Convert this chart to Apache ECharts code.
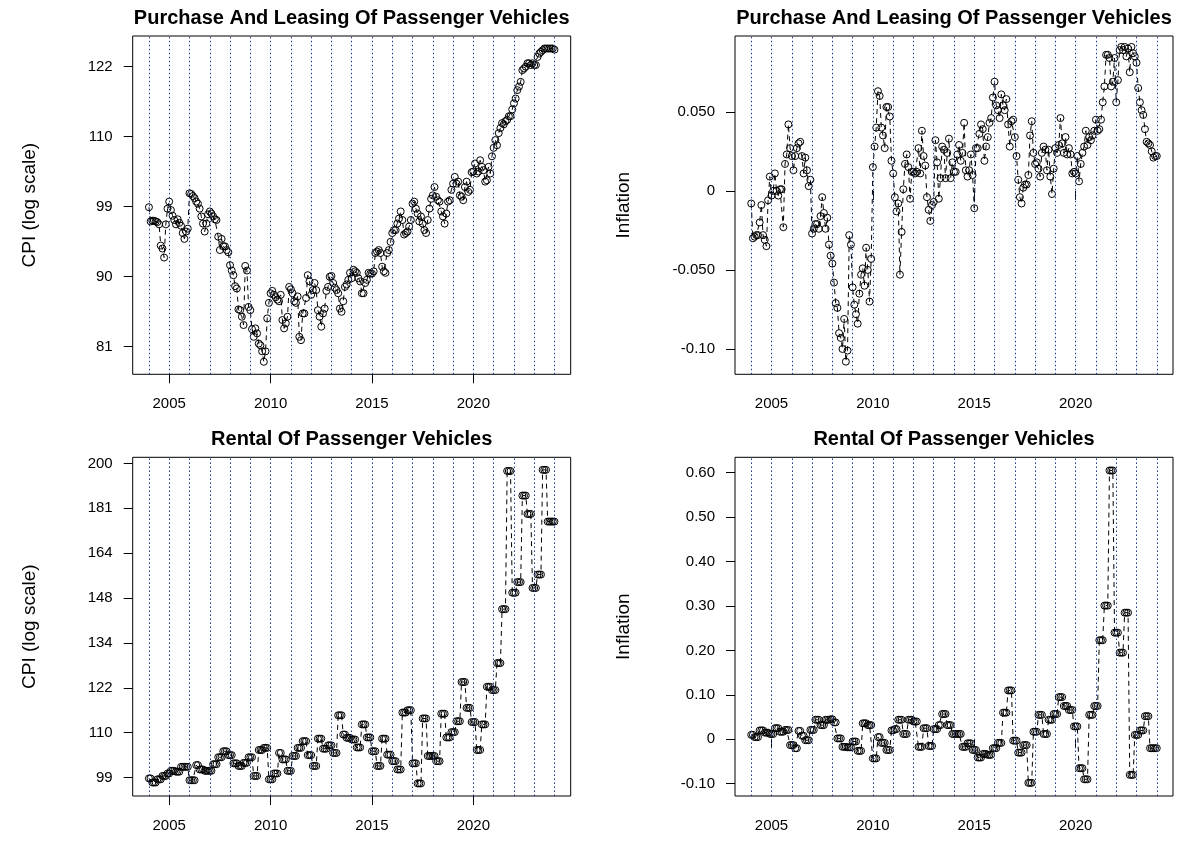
<!DOCTYPE html>
<html><head><meta charset="utf-8">
<script src="https://cdn.jsdelivr.net/npm/echarts@6/dist/echarts.min.js"></script>
<style>html,body{margin:0;padding:0;background:#fff}#c{width:1178px;height:842px}</style>
</head><body><div id="c"></div>
<script>
const startYear = 2004;
const yearLines = [2004,2005,2006,2007,2008,2009,2010,2011,2012,2013,2014,2015,2016,2017,2018,2019,2020,2021,2022,2023,2024];
const xTickYears = [2005, 2010, 2015, 2020];
const panelTitles = ['Purchase And Leasing Of Passenger Vehicles','Purchase And Leasing Of Passenger Vehicles','Rental Of Passenger Vehicles','Rental Of Passenger Vehicles'];

// monthly, Jan 2004 .. Jan 2024
const purchaseCPI = [
99.4,97.4,97.5,97.5,97.4,97.3,97.0,94.1,93.7,92.5,97.0,99.2,
100.2,99.0,98.2,97.6,97.0,97.7,97.2,96.8,95.8,95.0,96.0,96.4,
101.4,101.3,101.0,100.7,100.2,99.9,99.2,98.1,97.1,96.0,97.1,98.4,
98.8,98.5,98.1,97.7,97.6,95.3,93.5,95.0,94.0,94.0,93.5,93.2,
91.5,90.8,90.2,88.8,88.5,85.9,85.8,85.0,84.0,91.4,90.8,86.2,
85.8,83.5,82.6,83.6,83.0,81.8,81.6,80.9,79.7,80.9,84.8,86.7,
87.9,88.2,87.7,87.4,87.1,86.9,87.7,84.6,83.6,84.2,85.0,88.7,
88.4,87.9,86.9,86.7,87.5,82.6,82.2,85.4,85.4,87.3,90.2,89.4,
87.7,88.3,89.2,88.3,85.8,85.0,83.8,85.4,86.0,88.2,88.7,90.0,
90.1,89.2,88.6,88.3,87.9,86.0,85.6,86.9,88.7,89.0,89.6,90.5,
89.8,90.9,90.7,90.5,89.8,89.4,87.9,87.9,89.2,89.6,90.5,90.4,
90.4,90.7,93.1,93.3,93.5,93.1,91.3,90.7,90.5,93.1,93.5,94.6,
95.8,96.2,96.2,97.1,97.8,98.8,97.6,95.6,95.8,96.0,96.7,97.6,
99.9,100.2,99.2,98.5,97.4,98.1,97.1,96.2,95.8,97.6,99.2,100.6,
101.1,102.3,100.9,100.4,100.2,98.8,98.1,97.1,98.5,100.2,100.4,101.9,
102.8,103.8,102.8,103.1,101.1,100.9,100.4,102.3,103.1,101.6,101.9,104.5,
104.6,105.8,104.3,104.6,106.3,105.3,104.8,103.1,103.3,105.3,104.3,106.9,
108.2,109.4,108.6,110.5,111.3,112.1,111.9,112.4,112.6,113.2,113.2,114.3,
115.3,116.1,117.5,118.1,118.9,120.9,121.2,121.5,122.1,122.1,121.8,122.1,
121.8,121.8,123.2,123.8,124.1,124.4,124.7,124.7,124.7,124.7,124.7,124.7,
124.5];

const purchaseInflation = [
-0.008,-0.030,-0.029,-0.028,-0.028,-0.020,-0.009,-0.028,-0.031,-0.035,-0.006,0.009,
-0.003,0.000,0.011,0.000,-0.003,0.001,0.001,-0.023,0.017,0.023,0.042,0.027,
0.022,0.013,0.022,0.027,0.030,0.031,0.022,0.011,0.021,0.013,0.003,0.007,
-0.027,-0.024,-0.021,-0.021,-0.024,-0.016,-0.004,-0.014,-0.024,-0.017,-0.034,-0.041,
-0.046,-0.058,-0.071,-0.074,-0.090,-0.093,-0.100,-0.081,-0.108,-0.101,-0.028,-0.034,
-0.061,-0.072,-0.078,-0.084,-0.065,-0.053,-0.049,-0.060,-0.036,-0.050,-0.070,-0.043,
0.015,0.028,0.040,0.063,0.060,0.040,0.035,0.027,0.053,0.053,0.047,0.019,
0.011,-0.004,-0.013,-0.008,-0.053,-0.026,0.001,0.017,0.023,0.015,-0.005,0.012,
0.012,0.011,0.012,0.027,0.011,0.038,0.022,0.016,-0.004,-0.012,-0.019,-0.009,
-0.007,0.032,0.018,-0.005,0.008,0.028,0.026,0.008,0.024,0.033,0.008,0.018,
0.012,0.012,0.023,0.029,0.019,0.024,0.043,0.013,0.009,0.013,0.023,0.010,
-0.011,0.027,0.027,0.036,0.042,0.039,0.019,0.028,0.034,0.043,0.046,0.059,
0.069,0.054,0.051,0.046,0.061,0.054,0.051,0.058,0.042,0.028,0.044,0.045,
0.034,0.022,0.007,-0.004,-0.008,0.002,0.004,0.004,0.010,0.035,0.044,0.024,
0.017,0.018,0.014,0.009,0.024,0.028,0.026,0.013,0.026,0.009,-0.002,0.014,
0.027,0.024,0.029,0.046,0.030,0.024,0.034,0.023,0.027,0.023,0.011,0.012,
0.011,0.022,0.006,0.017,0.024,0.028,0.038,0.029,0.034,0.032,0.035,0.038,
0.045,0.038,0.039,0.045,0.056,0.066,0.086,0.086,0.084,0.066,0.069,0.084,
0.056,0.070,0.089,0.091,0.089,0.091,0.085,0.090,0.075,0.091,0.087,0.085,
0.081,0.065,0.056,0.051,0.048,0.039,0.031,0.030,0.029,0.025,0.021,0.022,
0.022];

const rentalCPI = [
99.3,99.3,98.4,98.4,98.4,99.1,99.1,99.1,99.85,99.85,99.85,100.4,
100.4,101.0,101.0,101.0,100.8,100.8,100.8,101.9,101.9,101.9,101.9,101.9,
98.9,98.9,98.9,98.9,102.3,102.3,101.3,101.3,101.3,101.0,101.0,101.0,
101.0,101.0,102.5,102.5,102.5,104.1,104.1,104.1,105.5,105.5,105.5,104.6,
104.6,104.6,102.7,102.7,102.7,102.1,102.1,102.1,102.8,102.8,102.8,104.1,
104.1,104.1,99.85,99.85,99.85,105.8,105.8,105.8,106.3,106.3,106.3,99.1,
99.1,99.1,100.4,100.4,100.4,105.1,105.1,103.6,103.6,103.6,101.0,101.0,
101.0,104.4,104.4,104.4,106.3,106.3,106.3,107.9,107.9,107.9,104.6,104.6,
104.6,102.1,102.1,102.1,108.5,108.5,108.5,106.1,106.1,106.1,106.9,106.9,
106.9,105.1,105.1,105.1,114.3,114.3,114.3,109.5,109.5,108.7,108.7,108.7,
108.3,108.3,108.3,106.4,106.4,106.4,112.0,112.0,112.0,108.8,108.8,108.8,
105.5,105.5,105.5,102.1,102.1,102.1,108.5,108.5,108.5,104.7,104.7,104.7,
103.2,103.2,103.2,101.3,101.3,101.3,115.0,115.0,115.0,115.6,115.6,115.6,
102.7,102.7,102.7,98.2,98.2,98.2,113.5,113.5,113.5,104.4,104.4,104.4,
104.4,104.4,103.2,103.2,103.2,114.7,114.7,114.7,108.8,108.8,108.8,110.1,
110.1,110.1,112.8,112.8,112.8,123.1,123.1,123.1,116.2,116.2,116.2,112.6,
112.6,112.6,105.8,105.8,105.8,112.0,112.0,112.0,121.8,121.8,121.8,120.9,
120.9,120.9,128.4,128.4,128.4,144.8,144.8,144.8,197.0,197.0,197.0,150.2,
150.2,150.2,153.8,153.8,153.8,186.5,186.5,186.5,179.0,179.0,179.0,151.8,
151.8,151.8,156.4,156.4,156.4,197.5,197.5,197.5,176.0,176.0,176.0,176.0,
176.0];

const rentalInflation = [
0.010,0.010,0.005,0.005,0.005,0.020,0.020,0.020,0.015,0.015,0.015,0.012,
0.012,0.012,0.025,0.025,0.025,0.017,0.017,0.017,0.021,0.021,0.021,-0.013,
-0.013,-0.013,-0.020,-0.020,0.019,0.019,0.008,0.008,-0.002,-0.002,-0.002,0.021,
0.021,0.021,0.044,0.044,0.044,0.032,0.032,0.032,0.044,0.044,0.044,0.045,
0.045,0.038,0.038,0.002,0.002,0.002,-0.017,-0.017,-0.017,-0.018,-0.018,-0.018,
-0.005,-0.005,-0.005,-0.026,-0.026,-0.026,0.036,0.036,0.036,0.032,0.032,0.032,
-0.043,-0.043,-0.043,0.005,0.005,-0.008,-0.008,-0.008,-0.024,-0.024,-0.024,0.020,
0.020,0.023,0.023,0.044,0.044,0.044,0.012,0.012,0.012,0.044,0.044,0.044,
0.040,0.040,0.040,-0.017,-0.017,-0.017,0.025,0.025,0.025,-0.015,-0.015,-0.015,
0.023,0.023,0.023,0.032,0.032,0.057,0.057,0.057,0.032,0.032,0.032,0.012,
0.012,0.012,0.012,0.012,0.012,-0.017,-0.017,-0.017,-0.009,-0.009,-0.009,-0.024,
-0.024,-0.024,-0.041,-0.041,-0.041,-0.033,-0.033,-0.033,-0.035,-0.035,-0.035,-0.020,
-0.020,-0.020,-0.008,-0.008,-0.008,0.060,0.060,0.060,0.110,0.110,0.110,-0.003,
-0.003,-0.003,-0.030,-0.030,-0.030,-0.013,-0.013,-0.013,-0.098,-0.098,-0.098,0.017,
0.017,0.017,0.055,0.055,0.055,0.012,0.012,0.012,0.044,0.044,0.044,0.057,
0.057,0.057,0.095,0.095,0.095,0.075,0.075,0.075,0.066,0.066,0.066,0.029,
0.029,0.029,-0.065,-0.065,-0.065,-0.090,-0.090,-0.090,0.055,0.055,0.055,0.075,
0.075,0.075,0.223,0.223,0.223,0.301,0.301,0.301,0.605,0.605,0.605,0.240,
0.240,0.240,0.195,0.195,0.195,0.285,0.285,0.285,-0.080,-0.080,-0.080,0.010,
0.010,0.010,0.020,0.020,0.020,0.052,0.052,0.052,-0.020,-0.020,-0.020,-0.020,
-0.020];

// tick positions (log CPI / inflation) and their labels
const cpiTicksTop = [4.4, 4.5, 4.6, 4.7, 4.8];
const cpiTickLabelsTop = ['81', '90', '99', '110', '122'];
const cpiTicksBottom = [4.6, 4.7, 4.8, 4.9, 5.0, 5.1, 5.2, 5.3];
const cpiTickLabelsBottom = ['99', '110', '122', '134', '148', '164', '181', '200'];
const inflTicksTop = [-0.10, -0.05, 0, 0.05];
const inflTickLabelsTop = ['-0.10', '-0.050', '0', '0.050'];
const inflTicksBottom = [-0.1, 0, 0.1, 0.2, 0.3, 0.4, 0.5, 0.6];
const inflTickLabelsBottom = ['-0.10', '0', '0.10', '0.20', '0.30', '0.40', '0.50', '0.60'];

const months = purchaseCPI.map((_, i) => startYear + i / 12);
const FONT = '"Liberation Sans", Arial, Helvetica, sans-serif';

const panels = [
  { grid: {left: 132.7, top: 36, width: 438, height: 338.3}, values: purchaseCPI.map(v => Math.log(v)),
    yMin: 4.3604, yMax: 4.8438, ticks: cpiTicksTop, labels: cpiTickLabelsTop },
  { grid: {left: 735, top: 36, width: 438, height: 338.3}, values: purchaseInflation,
    yMin: -0.116, yMax: 0.0979, ticks: inflTicksTop, labels: inflTickLabelsTop },
  { grid: {left: 132.7, top: 457.3, width: 438, height: 338.7}, values: rentalCPI.map(v => Math.log(v)),
    yMin: 4.559, yMax: 5.3137, ticks: cpiTicksBottom, labels: cpiTickLabelsBottom },
  { grid: {left: 735, top: 457.3, width: 438, height: 338.7}, values: rentalInflation,
    yMin: -0.1276, yMax: 0.6347, ticks: inflTicksBottom, labels: inflTickLabelsBottom }
];

function labelFor(ticks, labels) {
  return function (v) {
    for (let k = 0; k < ticks.length; k++) if (Math.abs(ticks[k] - v) < 1e-6) return labels[k];
    return '';
  };
}

const option = {
  animation: false,
  backgroundColor: '#fff',
  textStyle: { fontFamily: FONT },
  grid: panels.map(p => Object.assign({ show: true, borderColor: '#000', borderWidth: 1, backgroundColor: 'transparent' }, p.grid)),
  xAxis: panels.map((p, i) => ({
    gridIndex: i, type: 'value', min: 2003.2, max: 2024.8,
    axisLine: { show: false },
    axisTick: { show: true, length: 9, lineStyle: { color: '#000', width: 1 }, customValues: xTickYears },
    axisLabel: { customValues: xTickYears, color: '#000', fontSize: 15, fontFamily: FONT, margin: 22, formatter: v => String(Math.round(v)) },
    splitLine: { show: false }
  })),
  yAxis: panels.map((p, i) => ({
    gridIndex: i, type: 'value', min: p.yMin, max: p.yMax,
    axisLine: { show: false },
    axisTick: { show: true, length: 9, lineStyle: { color: '#000', width: 1 }, customValues: p.ticks },
    axisLabel: { customValues: p.ticks, color: '#000', fontSize: 15, fontFamily: FONT, margin: 20, formatter: labelFor(p.ticks, p.labels) },
    splitLine: { show: false }
  })),
  series: panels.map((p, i) => ({
    type: 'line', xAxisIndex: i, yAxisIndex: i,
    data: months.map((t, k) => [t, p.values[k]]),
    symbol: 'circle', symbolSize: 7, showAllSymbol: true,
    itemStyle: { color: 'rgba(0,0,0,0)', borderColor: '#000', borderWidth: 1 },
    lineStyle: { color: '#000', width: 1, type: [5, 4] },
    emphasis: { disabled: true },
    silent: true,
    markLine: {
      silent: true, symbol: ['none', 'none'], label: { show: false }, animation: false,
      lineStyle: { color: '#1c3a8e', width: 1, type: [1.5, 2.5] },
      emphasis: { disabled: true },
      data: yearLines.map(y => ({ xAxis: y }))
    }
  })),
  graphic: [
    ...panels.map((p, i) => ({
      type: 'text', x: p.grid.left + p.grid.width / 2, y: p.grid.top - 18,
      style: { text: panelTitles[i], font: 'bold 20px ' + FONT, fill: '#000', align: 'center', verticalAlign: 'middle', textAlign: 'center', textVerticalAlign: 'middle' }
    })),
    ...panels.map((p, i) => ({
      type: 'text', x: (i % 2 === 0) ? 30 : 624, y: p.grid.top + p.grid.height / 2, rotation: Math.PI / 2,
      style: { text: (i % 2 === 0) ? 'CPI (log scale)' : 'Inflation', font: '19px ' + FONT, fill: '#000', align: 'center', verticalAlign: 'middle', textAlign: 'center', textVerticalAlign: 'middle' }
    }))
  ]
};

const chart = echarts.init(document.getElementById('c'), null, { renderer: 'canvas' });
chart.setOption(option);
</script>
</body></html>
